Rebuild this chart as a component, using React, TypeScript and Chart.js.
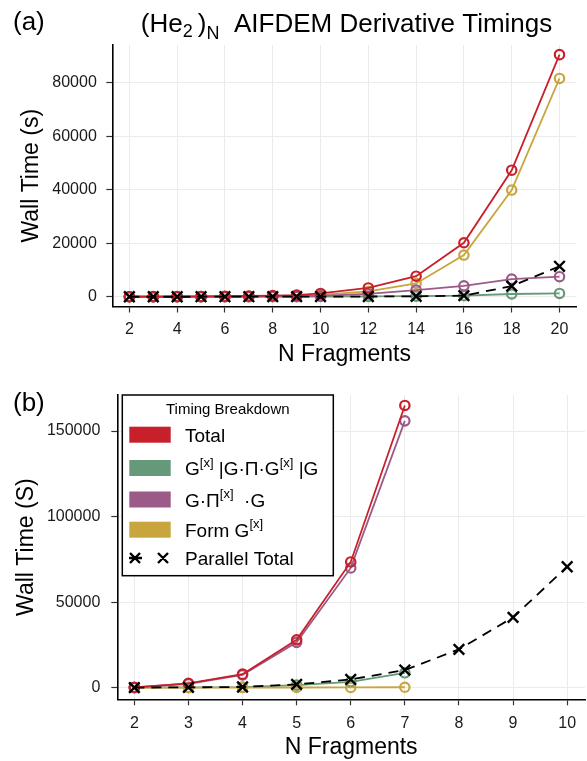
import React, { useEffect, useRef } from 'react';
import { Chart, registerables } from 'chart.js';

Chart.register(...registerables);

const FONT = '"Liberation Sans", Arial, Helvetica, sans-serif';

// ---------- Panel (a) data ----------
const fragmentsA = [2, 3, 4, 5, 6, 7, 8, 9, 10, 12, 14, 16, 18, 20];
const totalA = [30, 50, 80, 130, 200, 300, 420, 650, 1250, 3300, 7700, 20200, 47300, 90500];
const formGA = [15, 25, 40, 70, 110, 160, 230, 380, 700, 2000, 5000, 15600, 39900, 81600];
const gpigA = [10, 15, 25, 40, 60, 90, 120, 170, 350, 1100, 2500, 4100, 6600, 7500];
const gxgA = [5, 8, 12, 18, 25, 35, 50, 70, 100, 150, 250, 400, 1050, 1250];
const parallelA = [10, 15, 20, 25, 30, 40, 50, 60, 80, 100, 150, 450, 4000, 11400];
const xTicksA = [2, 4, 6, 8, 10, 12, 14, 16, 18, 20];
const yTicksA = [0, 20000, 40000, 60000, 80000];

// ---------- Panel (b) data ----------
const fragmentsB = [2, 3, 4, 5, 6, 7];
const totalB = [150, 2500, 7900, 28000, 73500, 165000];
const gxgB = [30, 150, 350, 1500, 3400, 8700];
const gpigB = [100, 2300, 7500, 26500, 70000, 156000];
const formGB = [10, 30, 60, 100, 150, 250];
const fragmentsParB = [2, 3, 4, 5, 6, 7, 8, 9, 10];
const parallelB = [50, 200, 400, 1900, 4800, 10300, 22400, 41100, 70700];
const xTicksB = [2, 3, 4, 5, 6, 7, 8, 9, 10];
const yTicksB = [0, 50000, 100000, 150000];

// ---------- Text ----------
type Part = { t: string; sup?: boolean; sub?: number };
const titleParts: Part[] = [
  { t: '(He' },
  { t: '2', sub: 1 },
  { t: '\u2009)' },
  { t: 'N', sub: 2 },
  { t: '  AIFDEM Derivative Timings' },
];
const legendTitle = 'Timing Breakdown';
const legendLabels: Part[][] = [
  [{ t: 'Total' }],
  [{ t: 'G' }, { t: '[x]', sup: true }, { t: ' |G·Π·G' }, { t: '[x]', sup: true }, { t: ' |G' }],
  [{ t: 'G·Π' }, { t: '[x]', sup: true }, { t: '  ·G' }],
  [{ t: 'Form G' }, { t: '[x]', sup: true }],
  [{ t: 'Parallel Total' }],
];

const RED = '#C8202A';
const GREEN = '#65997A';
const PURPLE = '#9B5A87';
const GOLD = '#C9A53E';

const pts = (xs: number[], ys: number[]) => xs.map((x, i) => ({ x, y: ys[i] }));

function lineDs(label: string, xs: number[], ys: number[], color: string) {
  return {
    label,
    data: pts(xs, ys),
    borderColor: color,
    backgroundColor: 'rgba(0,0,0,0)',
    borderWidth: 1.8,
    pointStyle: 'circle',
    pointRadius: 4.7,
    pointBorderWidth: 2.2,
    pointBorderColor: color,
    pointBackgroundColor: 'rgba(0,0,0,0)',
    tension: 0,
    fill: false,
  };
}

function parDs(xs: number[], ys: number[]) {
  return {
    label: 'Parallel Total',
    data: pts(xs, ys),
    borderColor: '#000',
    backgroundColor: 'rgba(0,0,0,0)',
    borderDash: [10, 7],
    borderWidth: 1.8,
    pointStyle: 'crossRot',
    pointRadius: 7.5,
    pointBorderWidth: 2.4,
    pointBorderColor: '#000',
    tension: 0,
    fill: false,
  };
}

function partFont(p: Part, size: number, small: number) {
  return `${p.sup || p.sub ? small : size}px ${FONT}`;
}

function drawParts(
  ctx: CanvasRenderingContext2D,
  parts: Part[],
  x: number,
  y: number,
  size: number,
  small: number,
  align: 'left' | 'center',
  supRaise: number,
  subDrops: number[]
) {
  ctx.textAlign = 'left';
  ctx.textBaseline = 'alphabetic';
  const widths = parts.map((p) => {
    ctx.font = partFont(p, size, small);
    return ctx.measureText(p.t).width;
  });
  const total = widths.reduce((a, b) => a + b, 0);
  let cx = align === 'center' ? x - total / 2 : x;
  parts.forEach((p, i) => {
    ctx.font = partFont(p, size, small);
    let yy = y;
    if (p.sup) yy = y - supRaise;
    if (p.sub) yy = y + subDrops[p.sub - 1];
    ctx.fillText(p.t, cx, yy);
    cx += widths[i];
  });
}

function makeScales(o: any) {
  return {
    x: {
      type: 'linear',
      min: o.xmin,
      max: o.xmax,
      afterBuildTicks: (s: any) => {
        s.ticks = o.xTicks.map((v: number) => ({ value: v }));
      },
      afterFit: (s: any) => {
        s.height = o.xHeight;
        s.paddingLeft = 0;
        s.paddingRight = 0;
      },
      ticks: {
        font: { family: FONT, size: 16 },
        color: '#1a1a1a',
        padding: o.xPad,
        maxRotation: 0,
        autoSkip: false,
        callback: (v: any) => String(v),
      },
      grid: { color: '#EBEBEB', lineWidth: 1, tickColor: '#333', tickLength: 6, tickWidth: 1.2 },
      border: { color: '#000', width: 1.6 },
      title: {
        display: true,
        text: 'N Fragments',
        color: '#000',
        font: { family: FONT, size: 23 },
        padding: { top: 0, bottom: o.xTitlePad },
      },
    },
    y: {
      type: 'linear',
      min: o.ymin,
      max: o.ymax,
      afterBuildTicks: (s: any) => {
        s.ticks = o.yTicks.map((v: number) => ({ value: v }));
      },
      afterFit: (s: any) => {
        s.width = o.yWidth;
        s.paddingTop = 0;
        s.paddingBottom = 0;
      },
      ticks: {
        font: { family: FONT, size: 16 },
        color: '#1a1a1a',
        padding: o.yPad,
        autoSkip: false,
        callback: (v: any) => String(v),
      },
      grid: { color: '#EBEBEB', lineWidth: 1, tickColor: '#333', tickLength: 6, tickWidth: 1.2 },
      border: { color: '#000', width: 1.6 },
      title: {
        display: true,
        text: o.yTitle,
        color: '#000',
        font: { family: FONT, size: 23 },
        padding: { top: o.yTitlePad, bottom: 0 },
      },
    },
  };
}

const annotA = {
  id: 'annotA',
  afterDraw(chart: any) {
    const ctx: CanvasRenderingContext2D = chart.ctx;
    const area = chart.chartArea;
    ctx.save();
    ctx.fillStyle = '#000';
    ctx.textAlign = 'left';
    ctx.textBaseline = 'alphabetic';
    ctx.font = `26px ${FONT}`;
    ctx.fillText('(a)', 13, 30);
    drawParts(ctx, titleParts, (area.left + area.right) / 2 + 2, 32, 26, 18, 'center', 0, [5, 7]);
    ctx.restore();
  },
};

const annotB = {
  id: 'annotB',
  afterDraw(chart: any) {
    const ctx: CanvasRenderingContext2D = chart.ctx;
    ctx.save();
    ctx.fillStyle = '#000';
    ctx.textAlign = 'left';
    ctx.textBaseline = 'alphabetic';
    ctx.font = `26px ${FONT}`;
    ctx.fillText('(b)', 13, 31);

    // legend box
    const bx = 122.3;
    const by = 15;
    const bw = 211;
    const bh = 180.7;
    ctx.fillStyle = '#fff';
    ctx.fillRect(bx, by, bw, bh);
    ctx.strokeStyle = '#000';
    ctx.lineWidth = 1.5;
    ctx.strokeRect(bx, by, bw, bh);

    ctx.fillStyle = '#000';
    ctx.font = `15px ${FONT}`;
    ctx.textAlign = 'center';
    ctx.textBaseline = 'middle';
    ctx.fillText(legendTitle, bx + bw / 2, 30);

    const baselines = [61.7, 95, 126.5, 156.7, 185];
    const swatchColors = [RED, GREEN, PURPLE, GOLD];
    legendLabels.forEach((parts, i) => {
      const base = baselines[i];
      const cy = base - 7;
      if (i < 4) {
        ctx.fillStyle = swatchColors[i];
        ctx.fillRect(129.3, cy - 8, 41.4, 16);
      } else {
        ctx.strokeStyle = '#000';
        ctx.lineWidth = 2.4;
        ctx.beginPath();
        ctx.moveTo(129, cy);
        ctx.lineTo(142, cy);
        [135, 163].forEach((px) => {
          ctx.moveTo(px - 5, cy - 5);
          ctx.lineTo(px + 5, cy + 5);
          ctx.moveTo(px - 5, cy + 5);
          ctx.lineTo(px + 5, cy - 5);
        });
        ctx.stroke();
      }
      ctx.fillStyle = '#000';
      drawParts(ctx, parts, 185, base, 19, 13, 'left', 8.5, [0, 0]);
    });
    ctx.restore();
  },
};

export default function App() {
  const refA = useRef<HTMLCanvasElement>(null);
  const refB = useRef<HTMLCanvasElement>(null);

  useEffect(() => {
    document.body.style.margin = '0';
    const common = {
      responsive: false,
      maintainAspectRatio: false,
      devicePixelRatio: 1,
      animation: false,
      plugins: { legend: { display: false }, title: { display: false }, tooltip: { enabled: false } },
    };

    const chartA = new Chart(refA.current as HTMLCanvasElement, {
      type: 'line',
      data: {
        datasets: [
          parDs(fragmentsA, parallelA),
          lineDs('Total', fragmentsA, totalA, RED),
          lineDs('G·Π[x]·G', fragmentsA, gpigA, PURPLE),
          lineDs('Form G[x]', fragmentsA, formGA, GOLD),
          lineDs('G[x]|G·Π·G[x]|G', fragmentsA, gxgA, GREEN),
        ] as any,
      },
      options: {
        ...common,
        layout: { autoPadding: false, padding: { top: 45, right: 10.3, left: 0, bottom: 0 } },
        scales: makeScales({
          xmin: 1.286,
          xmax: 20.72,
          xTicks: xTicksA,
          xHeight: 73.5,
          xPad: 7.4,
          xTitlePad: 11.2,
          ymin: -3630,
          ymax: 94100,
          yTicks: yTicksA,
          yWidth: 112.3,
          yPad: 9.5,
          yTitle: 'Wall Time (s)',
          yTitlePad: 18,
        }),
      } as any,
      plugins: [annotA],
    });

    const chartB = new Chart(refB.current as HTMLCanvasElement, {
      type: 'line',
      data: {
        datasets: [
          parDs(fragmentsParB, parallelB),
          lineDs('Total', fragmentsB, totalB, RED),
          lineDs('G·Π[x]·G', fragmentsB, gpigB, PURPLE),
          lineDs('Form G[x]', fragmentsB, formGB, GOLD),
          lineDs('G[x]|G·Π·G[x]|G', fragmentsB, gxgB, GREEN),
        ] as any,
      },
      options: {
        ...common,
        layout: { autoPadding: false, padding: { top: 15, right: 2, left: 0, bottom: 0 } },
        scales: makeScales({
          xmin: 1.685,
          xmax: 10.33,
          xTicks: xTicksB,
          xHeight: 61.7,
          xPad: 8.4,
          xTitlePad: 0,
          ymin: -6800,
          ymax: 171100,
          yTicks: yTicksB,
          yWidth: 117.3,
          yPad: 11,
          yTitle: 'Wall Time (S)',
          yTitlePad: 13.2,
        }),
      } as any,
      plugins: [annotB],
    });

    return () => {
      chartA.destroy();
      chartB.destroy();
    };
  }, []);

  return (
    <div style={{ position: 'absolute', left: 0, top: 0, width: 587, height: 761, background: '#fff' }}>
      <canvas
        ref={refA}
        width={587}
        height={380}
        style={{ position: 'absolute', left: 0, top: 0, width: 587, height: 380 }}
      />
      <canvas
        ref={refB}
        width={587}
        height={381}
        style={{ position: 'absolute', left: 0, top: 380, width: 587, height: 381 }}
      />
    </div>
  );
}
